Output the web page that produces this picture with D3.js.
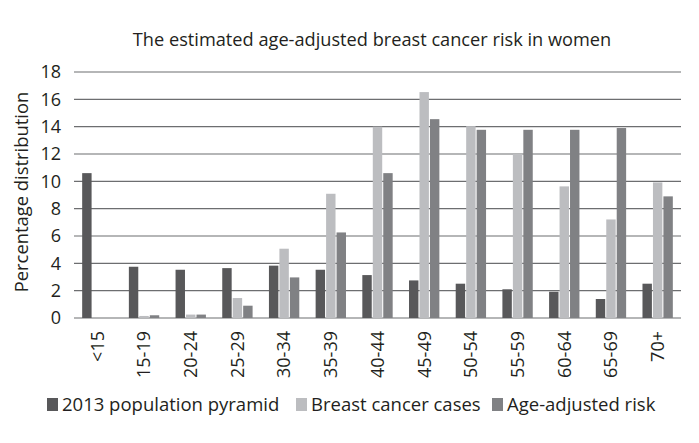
<!DOCTYPE html>
<html><head><meta charset="utf-8">
<script src="https://cdn.jsdelivr.net/npm/d3@7"></script>
<style>body{margin:0;background:#fff;} text{font-family:"Open Sans",sans-serif;fill:#231f20;}</style>
</head><body>
<svg id="c" width="699" height="443"></svg>
<script>
const categories = ["<15","15-19","20-24","25-29","30-34","35-39","40-44","45-49","50-54","55-59","60-64","65-69","70+"];
const seriesNames = ["2013 population pyramid","Breast cancer cases","Age-adjusted risk"];
const population = [10.6,3.75,3.53,3.65,3.83,3.53,3.14,2.75,2.51,2.1,1.92,1.39,2.51];
const cases = [0,0.15,0.25,1.46,5.07,9.09,14.0,16.53,14.04,12.0,9.63,7.21,9.92];
const risk = [0,0.2,0.25,0.9,2.97,6.26,10.6,14.55,13.77,13.77,13.77,13.9,8.9];
const yTicks = [0,2,4,6,8,10,12,14,16,18];
const colors = ["#58585a","#bcbdc0","#808184"];
const title = "The estimated age-adjusted breast cancer risk in women";
const yTitle = "Percentage distribution";

const svg = d3.select("#c");
const m = {l:74, r:18, t:72, b:125};
const W = 699, H = 443;
const x = d3.scaleBand().domain(categories).range([m.l, W-m.r]).paddingInner(0.35).paddingOuter(0.175);
const xs = d3.scaleBand().domain(seriesNames).range([0, x.bandwidth()]).paddingInner(0.1);
const y = d3.scaleLinear().domain([0,18]).range([318, 72]);

// grid
svg.append("g").selectAll("line").data(yTicks).join("line")
  .attr("x1", m.l).attr("x2", W-m.r).attr("y1", d=>y(d)).attr("y2", d=>y(d))
  .attr("stroke", "#6d6e70").attr("stroke-width", 1.2);

const data = [population, cases, risk];
data.forEach((arr, si) => {
  svg.append("g").selectAll("rect").data(arr).join("rect")
    .attr("x", (d,i)=> x(categories[i]) + xs(seriesNames[si]))
    .attr("width", xs.bandwidth())
    .attr("y", d=>y(d))
    .attr("height", d=>y(0)-y(d))
    .attr("fill", colors[si]);
});

// y axis
const ya = svg.append("g").attr("transform", `translate(${m.l},0)`)
  .call(d3.axisLeft(y).tickValues(yTicks).tickSize(0).tickPadding(13));
ya.select(".domain").remove();
ya.selectAll("text").style("font-size","18px").attr("fill","#231f20").style("font-family","'Open Sans',sans-serif");

// x axis labels
const xa = svg.append("g").attr("transform", `translate(0,${y(0)})`)
  .call(d3.axisBottom(x).tickSize(0).tickPadding(0));
xa.select(".domain").remove();
xa.selectAll("text")
  .attr("transform","rotate(-90)")
  .attr("x",-13).attr("y",0).attr("dy","0.35em")
  .style("text-anchor","end").style("font-size","18px").attr("fill","#231f20")
  .style("font-family","'Open Sans',sans-serif");

svg.append("text").attr("x", 372).attr("y", 46).attr("text-anchor","middle")
  .style("font-size","18.2px").text(title);
svg.append("text").attr("transform","translate(28,192) rotate(-90)").attr("text-anchor","middle")
  .style("font-size","18.4px").text(yTitle);

// legend
const legX = [47, 296, 492];
const lg = svg.append("g");
seriesNames.forEach((s,i)=>{
  lg.append("rect").attr("x", legX[i]).attr("y", 398).attr("width", 11).attr("height", 13).attr("fill", colors[i]);
  lg.append("text").attr("x", legX[i]+15).attr("y", 411).style("font-size","18.5px").text(s);
});
</script>
</body></html>
